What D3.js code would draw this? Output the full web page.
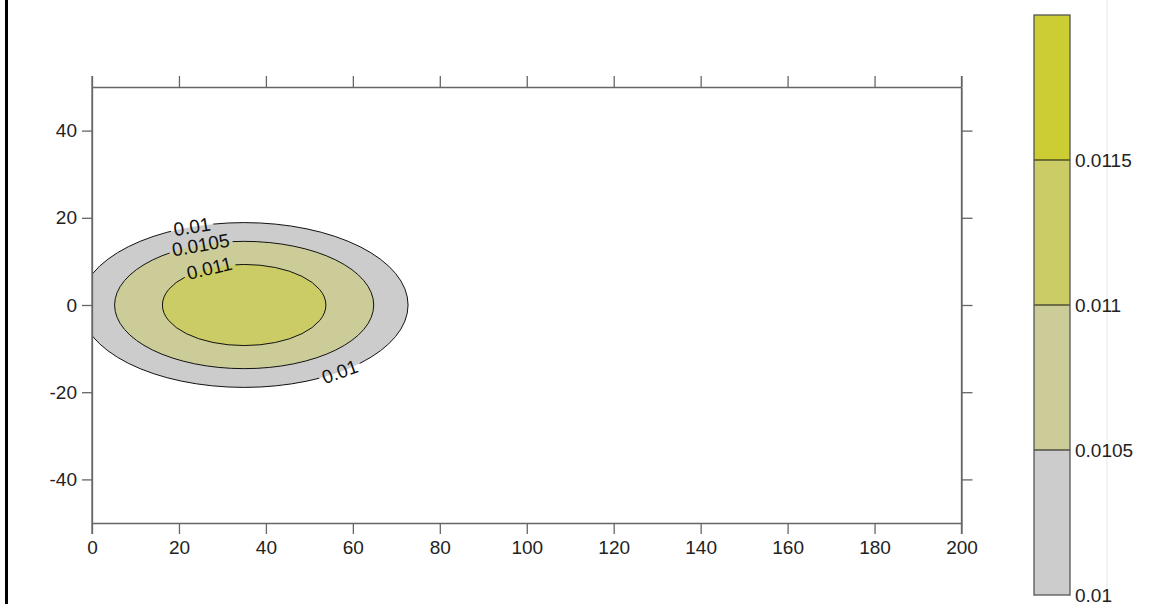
<!DOCTYPE html>
<html lang="en">
<head>
    <meta charset="UTF-8">
    <title>Contour Plot</title>
    <script src="https://d3js.org/d3.v7.min.js"></script>
    <style>
        body {
            margin: 0;
            background: #fff;
            font-family: "Liberation Sans", Arial, sans-serif;
        }
        svg text {
            font-family: "Liberation Sans", Arial, sans-serif;
        }
    </style>
</head>
<body>
    <svg width="1151" height="604"></svg>

    <script>
        // axis ticks
        const xTicks = [0, 20, 40, 60, 80, 100, 120, 140, 160, 180, 200];
        const yTicks = [-40, -20, 0, 20, 40];

        // colour bands (level boundaries and fills)
        const bandLevels = [0.01, 0.0105, 0.011, 0.0115, 0.012];
        const bandColors = ["#cccccc", "#cccc99", "#cccc66", "#cccc33"];
        const barLabels = ["0.01", "0.0105", "0.011", "0.0115"];

        // contours: centre and semi-axes in data units
        const contourLevels = [0.01, 0.0105, 0.011];
        const contourCx = [35, 35, 35];
        const contourCy = [0, 0, 0];
        const contourRx = [37.7, 29.8, 18.8];
        const contourRy = [18.9, 14.6, 9.3];

        // inline contour labels: which contour, x position, top (1) or bottom (-1)
        const labelText = ["0.01", "0.0105", "0.011", "0.01"];
        const labelContour = [0, 1, 2, 0];
        const labelX = [23, 25, 27, 57];
        const labelSide = [1, 1, 1, -1];

        const svg = d3.select("svg");
        const margin = {left: 92, right: 961.5, top: 87, bottom: 523};

        const x = d3.scaleLinear().domain([0, 200]).range([margin.left, margin.right]);
        const y = d3.scaleLinear().domain([-50, 50]).range([margin.bottom, margin.top]);

        // black strip at the far left
        svg.append("rect").attr("x", 5).attr("y", 0).attr("width", 3).attr("height", 604).attr("fill", "#000");
        // faint guide line at the right
        svg.append("line").attr("x1", 1107).attr("x2", 1107).attr("y1", 0).attr("y2", 604)
            .attr("stroke", "#e6e6e6").attr("stroke-width", 1);

        const defs = svg.append("defs");
        defs.append("clipPath").attr("id", "plotClip")
            .append("rect")
            .attr("x", margin.left).attr("y", margin.top)
            .attr("width", margin.right - margin.left).attr("height", margin.bottom - margin.top);

        const plot = svg.append("g").attr("clip-path", "url(#plotClip)");

        const fillColor = lvl => bandColors[bandLevels.indexOf(lvl)];

        plot.append("g")
            .selectAll("ellipse")
            .data(contourLevels)
            .join("ellipse")
            .attr("cx", (d, i) => x(contourCx[i]))
            .attr("cy", (d, i) => y(contourCy[i]))
            .attr("rx", (d, i) => x(contourRx[i]) - x(0))
            .attr("ry", (d, i) => y(0) - y(contourRy[i]))
            .attr("fill", d => fillColor(d));

        // label geometry on each ellipse
        const labels = labelText.map((t, i) => {
            const c = labelContour[i];
            const a = contourRx[c], b = contourRy[c];
            const u = (labelX[i] - contourCx[c]) / a;
            const s = Math.sqrt(1 - u * u);
            const dy = labelSide[i] * b * s;
            const slope = -labelSide[i] * b * u / (a * s);
            // convert slope to screen angle (y is flipped)
            const kx = x(1) - x(0), ky = y(0) - y(1);
            const ang = -Math.atan(slope * ky / kx) * 180 / Math.PI;
            return {text: t, px: x(labelX[i]), py: y(contourCy[c] + dy), angle: ang};
        });

        const mask = defs.append("mask").attr("id", "labelMask")
            .attr("maskUnits", "userSpaceOnUse")
            .attr("x", 0).attr("y", 0).attr("width", 1151).attr("height", 604);
        mask.append("rect").attr("width", 1151).attr("height", 604).attr("fill", "#fff");

        const strokes = plot.append("g").attr("mask", "url(#labelMask)");
        strokes.selectAll("ellipse")
            .data(contourLevels)
            .join("ellipse")
            .attr("cx", (d, i) => x(contourCx[i]))
            .attr("cy", (d, i) => y(contourCy[i]))
            .attr("rx", (d, i) => x(contourRx[i]) - x(0))
            .attr("ry", (d, i) => y(0) - y(contourRy[i]))
            .attr("fill", "none")
            .attr("stroke", "#111")
            .attr("stroke-width", 1);

        const lab = plot.append("g")
            .selectAll("text")
            .data(labels)
            .join("text")
            .attr("transform", d => `translate(${d.px},${d.py}) rotate(${d.angle})`)
            .attr("text-anchor", "middle")
            .attr("dominant-baseline", "central")
            .attr("font-size", 19)
            .attr("fill", "#111")
            .text(d => d.text);

        lab.each(function (d) {
            const w = this.getComputedTextLength() + 6;
            mask.append("rect")
                .attr("x", -w / 2).attr("y", -8)
                .attr("width", w).attr("height", 16)
                .attr("fill", "#000")
                .attr("transform", `translate(${d.px},${d.py}) rotate(${d.angle})`);
        });

        // axes
        const axisColor = "#666";
        function styleAxis(g) {
            g.selectAll(".domain").attr("stroke", axisColor).attr("stroke-width", 1.3);
            g.selectAll(".tick line").attr("stroke", axisColor).attr("stroke-width", 1.3);
            g.selectAll(".tick text").attr("fill", "#222").attr("font-size", 19)
                .attr("font-family", "'Liberation Sans', Arial, sans-serif");
        }
        const plain = d => String(d);

        svg.append("g").attr("transform", `translate(0,${margin.bottom})`)
            .call(d3.axisBottom(x).tickValues(xTicks).tickFormat(plain).tickSize(11).tickSizeOuter(0).tickPadding(7))
            .call(styleAxis);
        svg.append("g").attr("transform", `translate(0,${margin.top})`)
            .call(d3.axisTop(x).tickValues(xTicks).tickSize(11).tickSizeOuter(0).tickFormat(""))
            .call(styleAxis);
        svg.append("g").attr("transform", `translate(${margin.left},0)`)
            .call(d3.axisLeft(y).tickValues(yTicks).tickFormat(plain).tickSize(10).tickSizeOuter(0).tickPadding(5))
            .call(styleAxis);
        svg.append("g").attr("transform", `translate(${margin.right},0)`)
            .call(d3.axisRight(y).tickValues(yTicks).tickSize(11).tickSizeOuter(0).tickFormat(""))
            .call(styleAxis);

        // axis lines run through the end ticks at the corners
        svg.append("line").attr("x1", x(0)).attr("x2", x(0)).attr("y1", margin.top - 11).attr("y2", margin.bottom + 11)
            .attr("stroke", axisColor).attr("stroke-width", 1.3);
        svg.append("line").attr("x1", x(200)).attr("x2", x(200)).attr("y1", margin.top - 11).attr("y2", margin.bottom + 11)
            .attr("stroke", axisColor).attr("stroke-width", 1.3);

        // colour bar
        const barX = 1034, barW = 36;
        const cScale = d3.scaleLinear().domain([0.01, 0.012]).range([595, 15]);
        const bar = svg.append("g");
        bar.selectAll("rect")
            .data(bandColors)
            .join("rect")
            .attr("x", barX)
            .attr("y", (d, i) => cScale(bandLevels[i + 1]))
            .attr("width", barW)
            .attr("height", (d, i) => cScale(bandLevels[i]) - cScale(bandLevels[i + 1]))
            .attr("fill", d => d);
        bar.selectAll("line")
            .data(bandLevels.slice(1, -1))
            .join("line")
            .attr("x1", barX).attr("x2", barX + barW)
            .attr("y1", d => cScale(d)).attr("y2", d => cScale(d))
            .attr("stroke", "#111").attr("stroke-width", 1);
        bar.append("rect")
            .attr("x", barX).attr("y", cScale(0.012))
            .attr("width", barW).attr("height", cScale(0.01) - cScale(0.012))
            .attr("fill", "none").attr("stroke", "#555").attr("stroke-width", 1.3);
        bar.selectAll("text")
            .data(barLabels)
            .join("text")
            .attr("x", barX + barW + 5)
            .attr("y", (d, i) => cScale(bandLevels[i]))
            .attr("dominant-baseline", "central")
            .attr("font-size", 19)
            .attr("fill", "#222")
            .text(d => d);
    </script>
</body>
</html>
